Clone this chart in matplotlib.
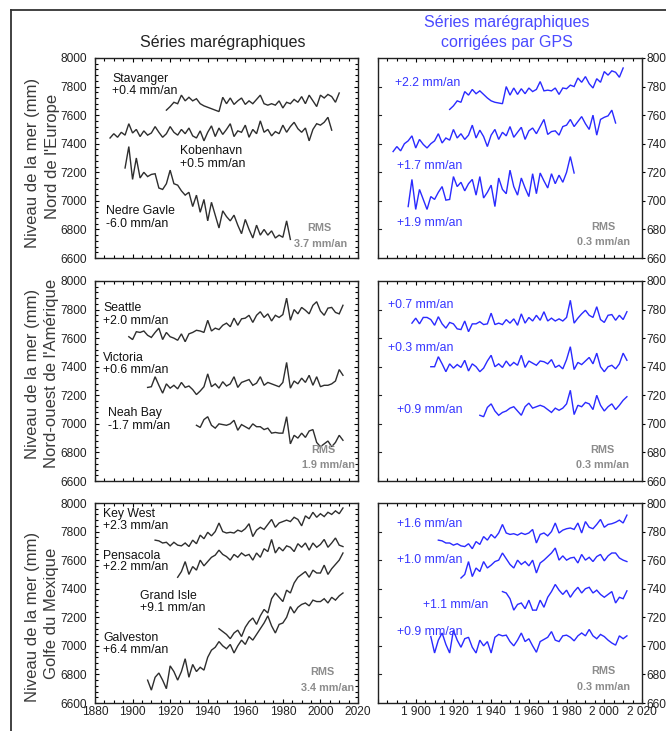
import numpy as np
import matplotlib
matplotlib.use("Agg")
import matplotlib.pyplot as plt
from matplotlib.lines import Line2D
from matplotlib.ticker import MultipleLocator, FixedLocator, FixedFormatter

plt.rcParams['font.family'] = ['Liberation Sans', 'DejaVu Sans']

# ---------------- data (2-year steps) ----------------
# Nord de l'Europe - raw
stavanger_start = 1918
stavanger = [7635, 7660, 7690, 7680, 7740, 7700, 7725, 7700, 7715, 7680, 7665, 7655, 7645, 7635, 7625,
             7725, 7680, 7720, 7675, 7700, 7720, 7675, 7700, 7680, 7710, 7740, 7680, 7670, 7680, 7670,
             7700, 7650, 7690, 7680, 7710, 7690, 7730, 7680, 7740, 7700, 7660, 7740, 7720, 7745, 7730,
             7690, 7755]
kobenhavn_start = 1888
kobenhavn = [7440, 7470, 7445, 7480, 7460, 7540, 7475, 7500, 7450, 7490, 7460, 7475, 7520, 7480, 7445,
             7470, 7520, 7480, 7460, 7500, 7470, 7510, 7455, 7440, 7490, 7420, 7480, 7525, 7450, 7510,
             7465, 7500, 7540, 7450, 7490, 7480, 7530, 7445, 7500, 7470, 7560, 7480, 7500, 7455, 7485,
             7470, 7530, 7480, 7520, 7550, 7505, 7480, 7510, 7420, 7500, 7540, 7530, 7550, 7585, 7495]
gavle_start = 1896
gavle = [7230, 7380, 7150, 7300, 7160, 7200, 7170, 7185, 7190, 7090, 7080, 7120, 7215, 7120, 7110,
         7070, 7040, 7060, 6960, 7040, 6920, 7010, 6860, 6990, 6900, 6810, 6930, 6890, 6860, 6900,
         6830, 6770, 6870, 6800, 6740, 6830, 6760, 6800, 6760, 6790, 6740, 6760, 6745, 6860, 6730]

# Nord de l'Europe - GPS corrected
stavanger_c = [7640, 7665, 7700, 7690, 7765, 7740, 7780, 7750, 7770, 7745, 7720, 7700, 7690, 7685, 7680,
               7800, 7740, 7790, 7745, 7785, 7750, 7790, 7765, 7780, 7835, 7770, 7775, 7770, 7790, 7745,
               7790, 7785, 7810, 7800, 7860, 7830, 7870, 7820, 7790, 7855, 7830, 7905, 7880, 7910, 7900,
               7865, 7930]
kobenhavn_c = [7345, 7380, 7350, 7400, 7420, 7455, 7370, 7430, 7395, 7370, 7400, 7420, 7470, 7405, 7440,
               7425, 7500, 7440, 7470, 7430, 7460, 7530, 7440, 7495, 7450, 7380, 7460, 7500, 7430, 7480,
               7455, 7520, 7445, 7480, 7515, 7430, 7490, 7510, 7470, 7520, 7570, 7465, 7485, 7490, 7460,
               7520, 7530, 7570, 7520, 7555, 7590, 7540, 7500, 7600, 7460, 7570, 7585, 7595, 7635, 7545]
gavle_c = [6960, 7150, 6940, 7080, 7010, 6940, 7030, 7010, 7060, 7100, 7005, 7010, 7170, 7100, 7130,
           7070, 7120, 7150, 7040, 7170, 7020, 7060, 7110, 6960, 7160, 7080, 7050, 7215, 7100, 7040,
           7160, 7090, 7030, 7190, 7050, 7195, 7140, 7090, 7190, 7120, 7180, 7130, 7200, 7310, 7195]

# Nord-ouest de l'Amerique - raw
seattle_start = 1898
seattle = [7610, 7590, 7645, 7640, 7650, 7620, 7605, 7640, 7670, 7590, 7640, 7610, 7600, 7585, 7630,
           7575, 7630, 7640, 7655, 7650, 7640, 7725, 7650, 7670, 7660, 7690, 7705, 7680, 7740, 7690,
           7735, 7740, 7760, 7710, 7760, 7785, 7745, 7770, 7720, 7760, 7745, 7765, 7880, 7725, 7800,
           7770, 7815, 7795, 7770, 7830, 7855, 7790, 7760, 7810, 7815, 7780, 7770, 7830]
victoria_start = 1908
victoria = [7255, 7260, 7330, 7270, 7215, 7280, 7250, 7270, 7245, 7290, 7255, 7265, 7240, 7205, 7230,
            7260, 7350, 7260, 7280, 7250, 7295, 7265, 7280, 7330, 7255, 7290, 7300, 7310, 7270, 7285,
            7330, 7270, 7290, 7280, 7270, 7260, 7290, 7430, 7250, 7300, 7280, 7320, 7290, 7340, 7270,
            7330, 7260, 7270, 7270, 7280, 7300, 7380, 7340]
neah_start = 1934
neah = [6990, 6975, 7030, 7050, 6990, 6970, 7000, 6995, 6990, 7000, 7025, 6955, 6995, 6980, 6965,
        7000, 6980, 6980, 6960, 6970, 6935, 6940, 6935, 6935, 7050, 6860, 6920, 6900, 6935, 6905,
        6950, 6960, 6870, 6840, 6860, 6880, 6840, 6870, 6920, 6885]

# Nord-ouest de l'Amerique - GPS corrected
seattle_c = [7705, 7740, 7700, 7745, 7745, 7730, 7690, 7750, 7700, 7670, 7710, 7700, 7665, 7660, 7720,
             7645, 7700, 7700, 7715, 7695, 7700, 7775, 7695, 7705, 7695, 7730, 7705, 7735, 7690, 7770,
             7705, 7745, 7720, 7760, 7725, 7785, 7720, 7740, 7720, 7735, 7720, 7745, 7865, 7705, 7740,
             7770, 7795, 7760, 7745, 7820, 7730, 7710, 7760, 7765, 7725, 7760, 7730, 7785]
victoria_c = [7400, 7400, 7470, 7420, 7365, 7420, 7390, 7415, 7395, 7445, 7370, 7420, 7400, 7365, 7390,
              7440, 7480, 7400, 7420, 7395, 7440, 7405, 7430, 7410, 7480, 7395, 7440, 7425, 7410, 7440,
              7435, 7420, 7450, 7395, 7410, 7385, 7450, 7540, 7380, 7430, 7415, 7440, 7465, 7420, 7495,
              7400, 7365, 7400, 7410, 7385, 7420, 7495, 7445]
neah_c = [7060, 7050, 7115, 7140, 7090, 7060, 7080, 7090, 7110, 7120, 7090, 7060, 7120, 7145, 7110,
          7120, 7130, 7120, 7100, 7080, 7110, 7095, 7110, 7140, 7235, 7065, 7130, 7120, 7150, 7140,
          7100, 7200, 7130, 7090, 7120, 7140, 7100, 7130, 7165, 7190]

# Golfe du Mexique - raw
keywest_start = 1912
keywest = [7740, 7735, 7720, 7725, 7700, 7725, 7705, 7700, 7720, 7695, 7740, 7715, 7775, 7750, 7795,
           7770, 7800, 7860, 7800, 7790, 7795, 7790, 7810, 7800, 7820, 7855, 7765, 7810, 7830, 7815,
           7850, 7885, 7830, 7860, 7870, 7880, 7870, 7900, 7885, 7840, 7910, 7890, 7935, 7900, 7925,
           7905, 7935, 7920, 7945, 7925, 7965]
pensacola_start = 1924
pensacola = [7480, 7520, 7590, 7500, 7555, 7530, 7600, 7560, 7590, 7620, 7635, 7670, 7640, 7625, 7600,
             7640, 7620, 7650, 7630, 7640, 7600, 7650, 7620, 7680, 7660, 7745, 7650, 7690, 7665, 7700,
             7690, 7660, 7715, 7690, 7720, 7670, 7720, 7690, 7710, 7745, 7690, 7720, 7755, 7705, 7695]
grandisle_start = 1946
grandisle = [7120, 7100, 7080, 7050, 7090, 7110, 7065, 7130, 7170, 7195, 7150, 7210, 7255, 7230, 7330,
             7370, 7340, 7310, 7390, 7370, 7440, 7480, 7500, 7520, 7480, 7530, 7510, 7510, 7565, 7500,
             7540, 7570, 7600, 7650]
galveston_start = 1908
galveston = [6760, 6690, 6780, 6810, 6760, 6700, 6860, 6820, 6760, 6820, 6910, 6780, 6870, 6820, 6850,
             6830, 6920, 6970, 6990, 7030, 7000, 6980, 7010, 6950, 7000, 7040, 7010, 7065, 7040, 7080,
             7120, 7160, 7210, 7140, 7090, 7150, 7160, 7200, 7275, 7230, 7270, 7290, 7300, 7280, 7320,
             7310, 7310, 7330, 7300, 7340, 7320, 7350, 7370]

# Golfe du Mexique - GPS corrected
keywest_c = [7740, 7735, 7720, 7720, 7705, 7715, 7700, 7695, 7715, 7680, 7730, 7710, 7765, 7740, 7780,
             7755, 7790, 7850, 7790, 7780, 7785, 7775, 7790, 7780, 7790, 7815, 7720, 7780, 7790, 7770,
             7800, 7860, 7790, 7810, 7820, 7825, 7815, 7860, 7790, 7870, 7830, 7820, 7850, 7885, 7830,
             7850, 7855, 7865, 7880, 7860, 7915]
pensacola_c = [7475, 7500, 7590, 7485, 7545, 7520, 7590, 7545, 7565, 7590, 7600, 7650, 7610, 7570, 7545,
               7600, 7570, 7590, 7560, 7600, 7510, 7580, 7600, 7625, 7650, 7685, 7600, 7630, 7600, 7615,
               7620, 7580, 7640, 7600, 7620, 7590, 7625, 7640, 7595, 7630, 7650, 7650, 7615, 7600, 7590]
grandisle_c = [7380, 7370, 7330, 7250, 7290, 7300, 7260, 7320, 7250, 7250, 7320, 7270, 7340, 7380, 7430,
               7390, 7360, 7390, 7340, 7380, 7410, 7370, 7400, 7410, 7370, 7390, 7360, 7340, 7360, 7380,
               7300, 7340, 7330, 7385]
galveston_c = [7065, 6950, 7040, 7090, 7010, 6950, 7110, 7040, 6990, 7050, 7060, 6990, 6950, 7040, 7000,
               7030, 6950, 7060, 7080, 7070, 7075, 7030, 7000, 7040, 7090, 7030, 7050, 7000, 6955, 7030,
               7045, 7060, 7100, 7040, 7030, 7070, 7075, 7060, 7035, 7070, 7090, 7070, 7115, 7070, 7050,
               7080, 7065, 7040, 7020, 7005, 7070, 7050, 7070]

# ticks / labels
x_ticks = [1880, 1900, 1920, 1940, 1960, 1980, 2000, 2020]
x_labels_left = ['1880', '1900', '1920', '1940', '1960', '1980', '2000', '2020']
x_labels_right = ['', '1 900', '1 920', '1 940', '1 960', '1 980', '2 000', '2 020']
y_ticks = [6600, 6800, 7000, 7200, 7400, 7600, 7800, 8000]
y_labels = ['6600', '6800', '7000', '7200', '7400', '7600', '7800', '8000']

row_names = ["Nord de l'Europe", "Nord-ouest de l'Amérique", "Golfe du Mexique"]

# ---------------- figure ----------------
W, H = 666, 731
fig = plt.figure(figsize=(W / 100, H / 100), dpi=100)

def fx(px):
    return px / W

def fy(py):
    return 1 - py / H

BLACK_LINE = '#2e2e2e'
BLUE_LINE = '#2a2aff'
BLUE_TEXT = '#3535ff'
GRAY_TXT = '#8c8c8c'
LABEL_COL = '#3a3a3a'

rows_px = [(58, 258), (281, 481), (503, 703)]
left_px = (95, 358)
right_px = (378, 642)

def make_ax(xp, yp):
    return fig.add_axes([fx(xp[0]), fy(yp[1]), fx(xp[1] - xp[0]), (yp[1] - yp[0]) / H])

def style(ax, right, bottom):
    ax.set_xlim(1880, 2020)
    ax.set_ylim(6600, 8000)
    for s in ax.spines.values():
        s.set_color('#222222')
        s.set_linewidth(1.0)
    ax.xaxis.set_major_locator(FixedLocator(x_ticks))
    ax.xaxis.set_minor_locator(MultipleLocator(5))
    ax.yaxis.set_major_locator(FixedLocator(y_ticks))
    if bottom:
        ax.xaxis.set_major_formatter(FixedFormatter(x_labels_right if right else x_labels_left))
    else:
        ax.set_xticklabels([])
    ax.tick_params(axis='x', which='both', direction='in', top=True, bottom=True,
                   labelsize=8.6, labelcolor='#222222', pad=2)
    ax.tick_params(axis='x', which='major', length=3, width=0.8)
    ax.tick_params(axis='x', which='minor', length=2, width=0.8)
    if not right:
        ax.yaxis.set_minor_locator(MultipleLocator(40))
        ax.yaxis.set_major_formatter(FixedFormatter(y_labels))
        ax.tick_params(axis='y', which='both', direction='in', left=True, right=True,
                       labelsize=8.6, labelcolor='#222222', pad=6)
        ax.tick_params(axis='y', which='major', length=3, width=0.8)
        ax.tick_params(axis='y', which='minor', length=2, width=0.8)
    else:
        ax.yaxis.tick_right()
        ax.yaxis.set_major_formatter(FixedFormatter(y_labels))
        ax.tick_params(axis='y', which='major', direction='out', left=False, right=True,
                       labelleft=False, labelright=True, length=2.5, width=0.8,
                       labelsize=8.6, labelcolor='#222222', pad=1)
        # inward ticks on the left spine
        for yt in y_ticks[1:-1]:
            ax.plot([1880, 1881.5], [yt, yt], color='#222222', lw=0.8, clip_on=False)

def plot_series(ax, start, vals, color):
    yrs = np.arange(start, start + 2 * len(vals), 2)
    ax.plot(yrs, vals, color=color, lw=1.0, solid_joinstyle='miter')

def txt(ax, x, y, s, color='#111111', size=8.8, **kw):
    ax.text(x, y, s, color=color, fontsize=size, va='center', **kw)

def label2(ax, x, y1, y2, s1, s2):
    # two stacked lines, nudged 1 px apart
    txt(ax, x, y1 + 6, s1)
    txt(ax, x, y2 - 6, s2)

def rms(ax, x1, y1, x2, y2, val):
    ax.text(x1, y1 + 6, 'RMS', color=GRAY_TXT, fontsize=7.8, fontweight='bold', ha='center', va='center')
    ax.text(x2, y2 - 6, val, color=GRAY_TXT, fontsize=7.8, fontweight='bold', ha='center', va='center')

axes_left = [make_ax(left_px, r) for r in rows_px]
axes_right = [make_ax(right_px, r) for r in rows_px]
for i in range(3):
    style(axes_left[i], False, i == 2)
    style(axes_right[i], True, i == 2)

# Row 1
a, b = axes_left[0], axes_right[0]
plot_series(a, stavanger_start, stavanger, BLACK_LINE)
plot_series(a, kobenhavn_start, kobenhavn, BLACK_LINE)
plot_series(a, gavle_start, gavle, BLACK_LINE)
label2(a, 1889, 7844, 7774, 'Stavanger', '+0.4 mm/an')
label2(a, 1925, 7342, 7265, 'Kobenhavn', '+0.5 mm/an')
label2(a, 1886, 6922, 6845, 'Nedre Gavle', '-6.0 mm/an')
rms(a, 1999.5, 6805, 2000, 6705, '3.7 mm/an')
plot_series(b, stavanger_start, stavanger_c, BLUE_LINE)
plot_series(b, kobenhavn_start, kobenhavn_c, BLUE_LINE)
plot_series(b, gavle_start, gavle_c, BLUE_LINE)
txt(b, 1889, 7824, '+2.2 mm/an', color=BLUE_TEXT)
txt(b, 1890, 7243, '+1.7 mm/an', color=BLUE_TEXT)
txt(b, 1890, 6848, '+1.9 mm/an', color=BLUE_TEXT)
rms(b, 1999.5, 6813, 1999.5, 6720, '0.3 mm/an')

# Row 2
a, b = axes_left[1], axes_right[1]
plot_series(a, seattle_start, seattle, BLACK_LINE)
plot_series(a, victoria_start, victoria, BLACK_LINE)
plot_series(a, neah_start, neah, BLACK_LINE)
label2(a, 1884.4, 7802, 7727, 'Seattle', '+2.0 mm/an')
label2(a, 1884.4, 7452, 7382, 'Victoria', '+0.6 mm/an')
label2(a, 1887, 7067, 6992, 'Neah Bay', '-1.7 mm/an')
rms(a, 2001.4, 6812, 2004, 6719, '1.9 mm/an')
plot_series(b, seattle_start, seattle_c, BLUE_LINE)
plot_series(b, victoria_start, victoria_c, BLUE_LINE)
plot_series(b, neah_start, neah_c, BLUE_LINE)
txt(b, 1885.5, 7832, '+0.7 mm/an', color=BLUE_TEXT)
txt(b, 1885.5, 7529, '+0.3 mm/an', color=BLUE_TEXT)
txt(b, 1890, 7097, '+0.9 mm/an', color=BLUE_TEXT)
rms(b, 1999, 6812, 1999, 6719, '0.3 mm/an')

# Row 3
a, b = axes_left[2], axes_right[2]
plot_series(a, keywest_start, keywest, BLACK_LINE)
plot_series(a, pensacola_start, pensacola, BLACK_LINE)
plot_series(a, grandisle_start, grandisle, BLACK_LINE)
plot_series(a, galveston_start, galveston, BLACK_LINE)
label2(a, 1884.4, 7918, 7847, 'Key West', '+2.3 mm/an')
label2(a, 1884.4, 7624, 7558, 'Pensacola', '+2.2 mm/an')
label2(a, 1903.8, 7346, 7271, 'Grand Isle', '+9.1 mm/an')
label2(a, 1884.4, 7047, 6976, 'Galveston', '+6.4 mm/an')
rms(a, 2001, 6812, 2004, 6711, '3.4 mm/an')
plot_series(b, keywest_start, keywest_c, BLUE_LINE)
plot_series(b, pensacola_start, pensacola_c, BLUE_LINE)
plot_series(b, grandisle_start, grandisle_c, BLUE_LINE)
plot_series(b, galveston_start, galveston_c, BLUE_LINE)
txt(b, 1890, 7855, '+1.6 mm/an', color=BLUE_TEXT)
txt(b, 1890, 7598, '+1.0 mm/an', color=BLUE_TEXT)
txt(b, 1904, 7288, '+1.1 mm/an', color=BLUE_TEXT)
txt(b, 1890, 7095, '+0.9 mm/an', color=BLUE_TEXT)
rms(b, 1999.5, 6815, 1999.5, 6717, '0.3 mm/an')

# Titles
fig.text(fx(223), fy(43), 'Séries marégraphiques', ha='center', va='center',
         fontsize=11.5, color='#222222')
fig.text(fx(507), fy(23), 'Séries marégraphiques', ha='center', va='center',
         fontsize=11.5, color='#4a4aff')
fig.text(fx(507), fy(42), 'corrigées par GPS', ha='center', va='center',
         fontsize=11.5, color='#4a4aff')

# Y labels
ylab_pos = [(163, 156), (374, 373), (617, 613)]
for (p1, p2), name in zip(ylab_pos, row_names):
    fig.text(fx(33), fy(p1), 'Niveau de la mer (mm)', rotation=90, ha='center', va='center',
             fontsize=12, color=LABEL_COL)
    fig.text(fx(52), fy(p2), name, rotation=90, ha='center', va='center',
             fontsize=12, color=LABEL_COL)

# Outer frame
fig.add_artist(Line2D([fx(11), fx(11)], [fy(10), 0], transform=fig.transFigure,
                      color='#333333', lw=1.3))
fig.add_artist(Line2D([fx(11), 1], [fy(10), fy(10)], transform=fig.transFigure,
                      color='#333333', lw=1.3))

fig.savefig('out.png', dpi=100, facecolor='white')
